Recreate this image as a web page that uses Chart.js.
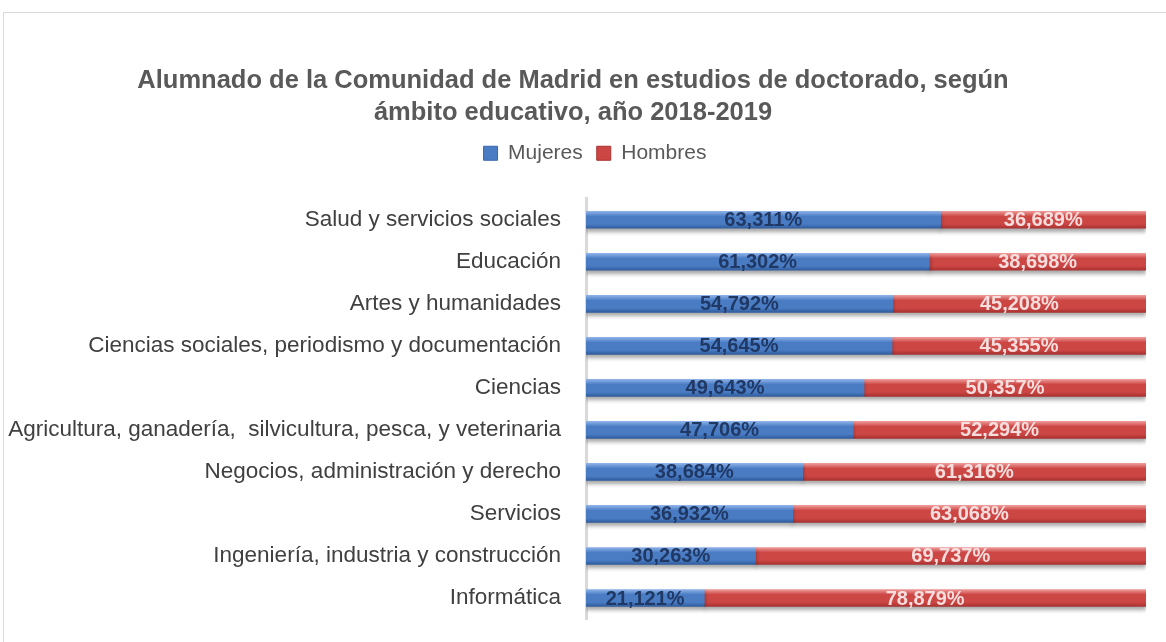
<!DOCTYPE html>
<html>
<head>
<meta charset="utf-8">
<script src="https://cdn.jsdelivr.net/npm/chart.js@4/dist/chart.umd.min.js"></script>
<style>
  html, body { margin: 0; padding: 0; background: #fff; overflow: hidden; }
  #frame { position: absolute; left: 3px; top: 12px; width: 1170px; height: 640px; border: 1px solid #d9d9d9; box-sizing: border-box; }
  #chart { position: absolute; left: 0; top: 0; }
</style>
</head>
<body>
<div id="frame"></div>
<canvas id="chart" width="1166" height="642"></canvas>
<script>
  const categories = [
    'Salud y servicios sociales',
    'Educación',
    'Artes y humanidades',
    'Ciencias sociales, periodismo y documentación',
    'Ciencias',
    'Agricultura, ganadería,  silvicultura, pesca, y veterinaria',
    'Negocios, administración y derecho',
    'Servicios',
    'Ingeniería, industria y construcción',
    'Informática'
  ];
  const mujeres = [63.311, 61.302, 54.792, 54.645, 49.643, 47.706, 38.684, 36.932, 30.263, 21.121];
  const hombres = [36.689, 38.698, 45.208, 45.355, 50.357, 52.294, 61.316, 63.068, 69.737, 78.879];

  const BAR_H = 17;
  const FONT = '"Liberation Sans", Arial, sans-serif';

  function fmt(v) {
    return v.toFixed(3).replace('.', ',') + '%';
  }

  // vertical shading across each bar, like the original's bevel
  function barGradient(ctx, light, mid, dark) {
    const chart = ctx.chart;
    const yScale = chart.scales && chart.scales.y;
    if (!yScale || ctx.dataIndex === undefined) return mid;
    const yc = yScale.getPixelForValue(ctx.dataIndex);
    if (!isFinite(yc)) return mid;
    const g = chart.ctx.createLinearGradient(0, yc - BAR_H / 2, 0, yc + BAR_H / 2);
    g.addColorStop(0, light);
    g.addColorStop(0.3, mid);
    g.addColorStop(0.75, mid);
    g.addColorStop(1, dark);
    return g;
  }

  // extra room under the legend and a small nudge to the right
  const legendTweak = {
    id: 'legendTweak',
    beforeInit(chart) {
      const fit = chart.legend.fit;
      chart.legend.fit = function () {
        fit.call(this);
        this.height += 25;
      };
    },
    afterLayout(chart) {
      chart.legend.left += 22;
      chart.legend.right += 22;
    }
  };

  const barShadow = {
    id: 'barShadow',
    beforeDatasetsDraw(chart) {
      const c = chart.ctx;
      c.save();
      c.shadowColor = 'rgba(0, 0, 0, 0.35)';
      c.shadowBlur = 4;
      c.shadowOffsetY = 3;
    },
    afterDatasetsDraw(chart) {
      chart.ctx.restore();
    }
  };

  const valueLabels = {
    id: 'valueLabels',
    afterDatasetsDraw(chart) {
      const ctx = chart.ctx;
      ctx.save();
      ctx.font = 'bold 20px ' + FONT;
      ctx.textAlign = 'center';
      ctx.textBaseline = 'middle';
      chart.data.datasets.forEach((ds, i) => {
        const meta = chart.getDatasetMeta(i);
        ctx.fillStyle = i === 0 ? '#203864' : '#f6dede';
        meta.data.forEach((bar, j) => {
          const x = (bar.x + bar.base) / 2;
          ctx.fillText(fmt(ds.data[j]), x, bar.y + 1);
        });
      });
      ctx.restore();
    }
  };

  new Chart(document.getElementById('chart'), {
    type: 'bar',
    data: {
      labels: categories,
      datasets: [
        {
          label: 'Mujeres',
          data: mujeres,
          backgroundColor: ctx => barGradient(ctx, '#8db2e8', '#4a7cc4', '#2f5c9e'),
          borderWidth: 0,
          barThickness: BAR_H
        },
        {
          label: 'Hombres',
          data: hombres,
          backgroundColor: ctx => barGradient(ctx, '#ee9a98', '#cc4644', '#a83230'),
          borderWidth: 0,
          barThickness: BAR_H
        }
      ]
    },
    options: {
      indexAxis: 'y',
      responsive: false,
      animation: false,
      layout: { padding: { left: 0, right: 20, top: 65, bottom: 23 } },
      plugins: {
        title: {
          display: true,
          text: ['Alumnado de la Comunidad de Madrid en estudios de doctorado, según', 'ámbito educativo, año 2018-2019'],
          color: '#595959',
          font: { family: FONT, size: 25.5, weight: 'bold', lineHeight: 1.25 },
          padding: { top: 0, bottom: 0 }
        },
        legend: {
          position: 'top',
          labels: {
            color: '#595959',
            font: { family: FONT, size: 21 },
            boxWidth: 14,
            boxHeight: 14,
            padding: 14,
            generateLabels(chart) {
              return [
                { text: 'Mujeres', fillStyle: '#4a7cc4', strokeStyle: '#3a68ad', lineWidth: 1, fontColor: '#595959', datasetIndex: 0 },
                { text: 'Hombres', fillStyle: '#cc4644', strokeStyle: '#a83230', lineWidth: 1, fontColor: '#595959', datasetIndex: 1 }
              ];
            }
          }
        },
        tooltip: { enabled: false }
      },
      scales: {
        x: {
          stacked: true,
          min: 0,
          max: 100,
          display: false
        },
        y: {
          stacked: true,
          afterFit(scale) {
            // wide label column, and no label overhang reserved above/below
            scale.width = 586;
            scale.paddingTop = 0;
            scale.paddingBottom = 0;
          },
          grid: { display: false, drawTicks: false },
          border: { display: true, color: '#d9d9d9', width: 3 },
          ticks: {
            color: '#404040',
            padding: 25,
            font: { family: FONT, size: 22.5 }
          }
        }
      }
    },
    plugins: [legendTweak, barShadow, valueLabels]
  });
</script>
</body>
</html>
